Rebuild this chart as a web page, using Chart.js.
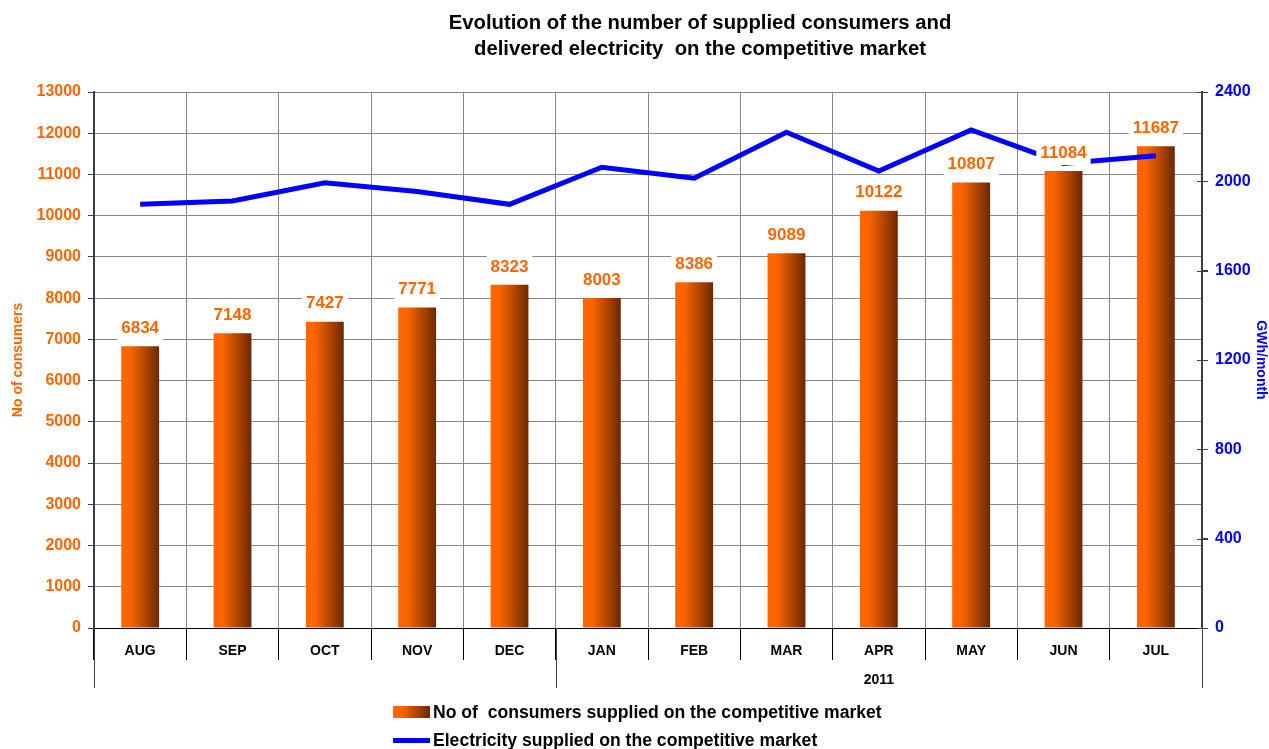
<!DOCTYPE html>
<html>
<head>
<meta charset="utf-8">
<script src="https://cdn.jsdelivr.net/npm/chart.js@4.4.0/dist/chart.umd.min.js"></script>
<style>
  body { margin: 0; background: #fff; }
  #wrap { position: relative; width: 1269px; height: 749px; }
  #chart { position: absolute; left: 0; top: 0; }
  .legend-row { position: absolute; left: 393px; height: 20px; display: flex; align-items: center;
    font: bold 17.6px "Liberation Sans", Arial, sans-serif; color: #000; white-space: pre; }
  .swatch-bar { width: 37px; height: 12px; margin-right: 3px;
    background: linear-gradient(to right, #FF6600 0%, #FA6400 25%, #6B2800 100%); }
  .swatch-line { width: 37px; height: 5px; margin-right: 3px; background: #0000FF; }
</style>
</head>
<body>
<div id="wrap">
  <canvas id="chart" width="1269" height="749"></canvas>
  <div class="legend-row" style="top:702px"><span class="swatch-bar"></span><span id="legBar"></span></div>
  <div class="legend-row" style="top:730px"><span class="swatch-line"></span><span id="legLine"></span></div>
</div>
<script>
// Chart data
const months = ['AUG', 'SEP', 'OCT', 'NOV', 'DEC', 'JAN', 'FEB', 'MAR', 'APR', 'MAY', 'JUN', 'JUL'];
const consumers = [6834, 7148, 7427, 7771, 8323, 8003, 8386, 9089, 10122, 10807, 11084, 11687];
const electricity = [1897, 1912, 1994, 1954, 1897, 2063, 2014, 2220, 2046, 2230, 2080, 2115]; // GWh/month
const yearLabel = '2011';
const yearStart = 5; // JAN is first month of 2011

const barName = 'No of  consumers supplied on the competitive market';
const lineName = 'Electricity supplied on the competitive market';
const titleLines = ['Evolution of the number of supplied consumers and', 'delivered electricity  on the competitive market'];

const FONT = '"Liberation Sans", Arial, sans-serif';
const BAR_PCT = 0.41;

document.getElementById('legBar').textContent = barName;
document.getElementById('legLine').textContent = lineName;

// horizontal orange -> brown gradient for each bar
function barGradient(c) {
  const chart = c.chart;
  const x = chart.scales.x;
  if (!x || c.dataIndex === undefined) return '#FF6600';
  const cx = x.getPixelForValue(c.dataIndex);
  const half = x.width / months.length * BAR_PCT / 2;
  if (!isFinite(cx) || !isFinite(half) || half <= 0) return '#FF6600';
  const g = chart.ctx.createLinearGradient(cx - half, 0, cx + half, 0);
  g.addColorStop(0, '#FF6600');
  g.addColorStop(0.25, '#FA6400');
  g.addColorStop(1, '#6B2800');
  return g;
}

// value labels with white boxes above the bars
const barLabels = {
  id: 'barLabels',
  afterDatasetsDraw(chart) {
    const ctx = chart.ctx;
    const meta = chart.getDatasetMeta(1);
    ctx.save();
    ctx.font = 'bold 17px ' + FONT;
    ctx.textAlign = 'center';
    ctx.textBaseline = 'middle';
    meta.data.forEach((bar, i) => {
      const txt = String(consumers[i]);
      const w = ctx.measureText(txt).width + 8;
      const cy = bar.y - 19;
      ctx.fillStyle = '#fff';
      ctx.fillRect(bar.x - w / 2, cy - 13, w, 26);
      ctx.fillStyle = '#FF6600';
      ctx.fillText(txt, bar.x, cy + 1);
    });
    ctx.restore();
  }
};

// title, year group label, long divider lines and inner ticks on the right axis
const extras = {
  id: 'extras',
  afterDraw(chart) {
    const { ctx, chartArea } = chart;
    const x = chart.scales.x;
    const y1 = chart.scales.y1;
    ctx.save();
    ctx.strokeStyle = '#404040';
    ctx.lineWidth = 1;
    const splitX = (x.getPixelForValue(yearStart - 1) + x.getPixelForValue(yearStart)) / 2;
    [x.left, splitX, x.right].forEach(px => {
      ctx.beginPath();
      ctx.moveTo(Math.round(px) + 0.5, chartArea.bottom);
      ctx.lineTo(Math.round(px) + 0.5, x.bottom);
      ctx.stroke();
    });
    y1.ticks.forEach(t => {
      const py = Math.round(y1.getPixelForValue(t.value)) + 0.5;
      ctx.beginPath();
      ctx.moveTo(y1.left - 5, py);
      ctx.lineTo(y1.left + 6, py);
      ctx.stroke();
    });
    ctx.fillStyle = '#000';
    ctx.font = 'bold 14px ' + FONT;
    ctx.textAlign = 'center';
    ctx.textBaseline = 'middle';
    const midX = (x.getPixelForValue(yearStart) + x.getPixelForValue(months.length - 1)) / 2;
    ctx.fillText(yearLabel, midX, x.bottom - 8);

    ctx.font = 'bold 20.3px ' + FONT;
    ctx.fillText(titleLines[0], 700, 23);
    ctx.fillText(titleLines[1], 700, 49);
    ctx.restore();
  }
};

const plain = v => String(v);

new Chart(document.getElementById('chart').getContext('2d'), {
  type: 'bar',
  data: {
    labels: months,
    datasets: [
      {
        type: 'line',
        label: lineName,
        data: electricity,
        yAxisID: 'y1',
        borderColor: '#0000FF',
        borderWidth: 5,
        pointRadius: 0,
        tension: 0,
        order: 0
      },
      {
        type: 'bar',
        label: barName,
        data: consumers,
        yAxisID: 'y',
        backgroundColor: barGradient,
        barPercentage: BAR_PCT,
        categoryPercentage: 1,
        order: 1
      }
    ]
  },
  options: {
    responsive: false,
    animation: false,
    layout: { padding: { left: 0, right: 0, top: 92, bottom: 61 } },
    plugins: {
      legend: { display: false },
      tooltip: { enabled: false },
      title: { display: false }
    },
    scales: {
      x: {
        offset: true,
        grid: { offset: true, color: '#888', tickColor: '#000', tickLength: 32 },
        border: { color: '#000', width: 1 },
        ticks: { color: '#000', font: { family: FONT, size: 14, weight: 'bold' }, padding: -17, maxRotation: 0 },
        afterFit(s) { s.height = 60; }
      },
      y: {
        position: 'left',
        min: 0,
        max: 13000,
        ticks: { stepSize: 1000, callback: plain, color: '#FF6600', font: { family: FONT, size: 16, weight: 'bold' }, padding: 7 },
        grid: { color: '#888', tickColor: '#404040', tickLength: 6 },
        border: { color: '#404040', width: 2 },
        title: { display: true, text: 'No of consumers', color: '#FF6600',
          font: { family: FONT, size: 14, weight: 'bold' }, padding: { top: 10, bottom: 0 } },
        afterFit(s) { s.width = 94; }
      },
      y1: {
        position: 'right',
        min: 0,
        max: 2400,
        ticks: { stepSize: 400, callback: plain, color: '#0000FF', font: { family: FONT, size: 16, weight: 'bold' }, padding: 7 },
        grid: { drawOnChartArea: false, tickColor: '#404040', tickLength: 6 },
        border: { color: '#404040', width: 2 },
        title: { display: true, text: 'GWh/month', color: '#0000FF',
          font: { family: FONT, size: 14, weight: 'bold' }, padding: { top: 0, bottom: 0 } },
        afterFit(s) { s.width = 67; }
      }
    }
  },
  plugins: [barLabels, extras]
});
</script>
</body>
</html>
